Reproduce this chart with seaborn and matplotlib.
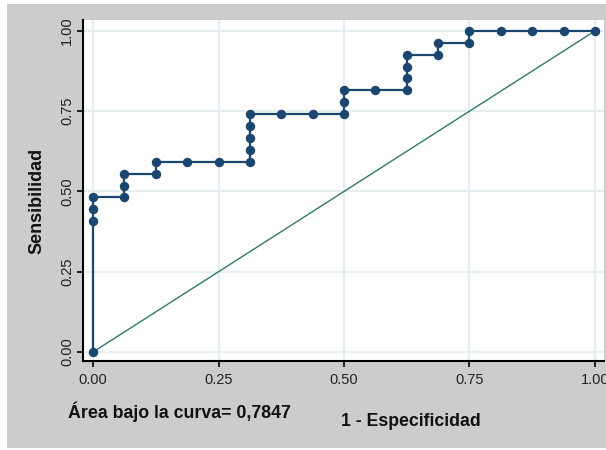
import matplotlib
matplotlib.use("Agg")
import matplotlib.pyplot as plt
import matplotlib.patches as mpatches
import seaborn as sns
import pandas as pd

# ROC curve points (1 - specificity, sensitivity)
fpr = [0.0, 0.0, 0.0, 0.0, 0.0625, 0.0625, 0.0625, 0.125, 0.125, 0.1875, 0.25,
       0.3125, 0.3125, 0.3125, 0.3125, 0.3125, 0.375, 0.4375, 0.5, 0.5, 0.5,
       0.5625, 0.625, 0.625, 0.625, 0.625, 0.6875, 0.6875, 0.75, 0.75,
       0.8125, 0.875, 0.9375, 1.0]
tpr = [0.0, 0.4074, 0.4444, 0.4815, 0.4815, 0.5185, 0.5556, 0.5556, 0.5926, 0.5926, 0.5926,
       0.5926, 0.6296, 0.6667, 0.7037, 0.7407, 0.7407, 0.7407, 0.7407, 0.7778, 0.8148,
       0.8148, 0.8148, 0.8519, 0.8889, 0.9259, 0.9259, 0.9630, 0.9630, 1.0,
       1.0, 1.0, 1.0, 1.0]
diag_x = [0.0, 1.0]
diag_y = [0.0, 1.0]
ticks = [0.0, 0.25, 0.5, 0.75, 1.0]
tick_labels = ["0.00", "0.25", "0.50", "0.75", "1.00"]
auc_text = "Área bajo la curva= 0,7847"
xlabel = "1 - Especificidad"
ylabel = "Sensibilidad"

sns.set_theme(style="white")
plt.rcParams["font.family"] = ["Liberation Sans", "DejaVu Sans"]

fig = plt.figure(figsize=(6.06, 4.5), dpi=100, facecolor="white")
bg = mpatches.Rectangle((7 / 606, 2 / 450), 1 - 7 / 606, 444 / 450,
                        transform=fig.transFigure, facecolor="#cccccc",
                        edgecolor="none", zorder=-10)
fig.patches.append(bg)

ax = fig.add_axes([83 / 606, 1 - 361 / 450, 521 / 606, 341 / 450])
ax.set_facecolor("white")
ax.set_zorder(1)

df = pd.DataFrame({"fpr": fpr, "tpr": tpr})
dd = pd.DataFrame({"x": diag_x, "y": diag_y})

sns.lineplot(data=dd, x="x", y="y", ax=ax, color="#2f7a68", linewidth=1.0,
             sort=False, estimator=None, zorder=2)
sns.lineplot(data=df, x="fpr", y="tpr", ax=ax, color="#1b4670", linewidth=1.6,
             sort=False, estimator=None, marker="o", markersize=6.8,
             markeredgewidth=0, zorder=3)

ax.set_xlim(-0.02, 1.018)
ax.set_ylim(-0.028, 1.034)
ax.set_xticks(ticks)
ax.set_xticklabels(tick_labels)
ax.set_yticks(ticks)
ax.set_yticklabels(tick_labels, rotation=90, va="center")
ax.grid(True, color="#e6eef2", linewidth=1.6)
ax.set_axisbelow(True)

for s in ["top", "right"]:
    ax.spines[s].set_visible(False)
for s in ["left", "bottom"]:
    ax.spines[s].set_color("black")
    ax.spines[s].set_linewidth(1.5)

ax.tick_params(axis="both", direction="out", length=4.5, width=1.2,
               color="black", labelsize=10.5, labelcolor="#222222",
               bottom=True, left=True)
ax.tick_params(axis="x", pad=4)
ax.tick_params(axis="y", pad=2)
ax.set_xlabel("")
ax.set_ylabel("")

fig.text(37 / 606, 1 - 201 / 450, ylabel, rotation=90, ha="center",
         va="center", fontsize=13, fontweight="bold", color="#111111")
fig.text(411 / 606, 1 - 421 / 450, xlabel, ha="center", va="center",
         fontsize=12.7, fontweight="bold", color="#111111")
fig.text(68 / 606, 1 - 412 / 450, auc_text, ha="left", va="center",
         fontsize=12.8, fontweight="bold", color="#111111")

fig.savefig("out.png", dpi=100, facecolor="white")
